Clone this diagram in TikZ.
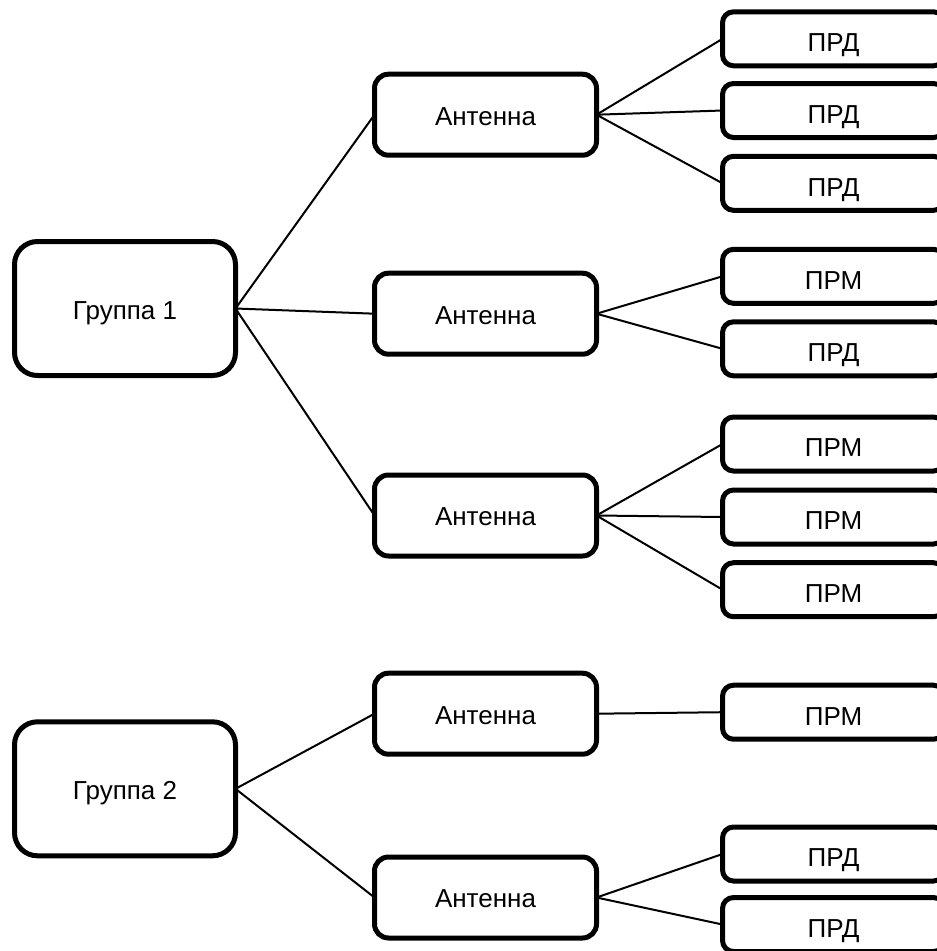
\documentclass[tikz,border=0pt]{standalone}
\usepackage{fontspec}
\setmainfont{Liberation Sans}
\begin{document}
\begin{tikzpicture}[x=1pt,y=-1pt,
  box/.style={draw=black, line width=5pt, fill=white, rounded corners=#1,
    inner sep=0pt, outer sep=0pt, text=black, text depth=0pt,
    font=\fontsize{26}{31}\selectfont},
  grp/.style={box=23pt, minimum width=221pt, minimum height=134pt, text height=21pt},
  ant/.style={box=14pt, minimum width=222pt, minimum height=81pt, text height=20.6pt},
  dev/.style={box=11pt, minimum width=222pt, minimum height=54pt, text height=25.8pt},
  link/.style={draw=black, line width=2pt}]
\clip (0,0) rectangle (937,951);
\fill[white] (0,0) rectangle (937,951);

\node[grp] (g1) at (125,308.5) {Группа 1};
\node[grp] (g2) at (125,788.8) {Группа 2};

\node[ant] (a1) at (485.5,114.7) {Антенна};
\node[ant] (a2) at (485.5,313.7) {Антенна};
\node[ant] (a3) at (485.5,515.5) {Антенна};
\node[ant] (a4) at (485.5,713.7) {Антенна};
\node[ant] (a5) at (485.5,897.5) {Антенна};

\node[dev] (d1) at (833.5,38.8) {ПРД};
\node[dev] (d2) at (833.5,110.5) {ПРД};
\node[dev] (d3) at (833.5,183.3) {ПРД};
\node[dev] (d4) at (833.5,276.3) {ПРМ};
\node[dev] (d5) at (833.5,348.8) {ПРД};
\node[dev] (d6) at (833.5,444) {ПРМ};
\node[dev] (d7) at (833.5,517) {ПРМ};
\node[dev] (d8) at (833.5,589.7) {ПРМ};
\node[dev] (d9) at (833.5,712.2) {ПРМ};
\node[dev] (d10) at (833.5,854) {ПРД};
\node[dev] (d11) at (833.5,924.5) {ПРД};

\foreach \a in {a1,a2,a3} \draw[link] (g1.east) -- (\a.west);
\foreach \a in {a4,a5} \draw[link] (g2.east) -- (\a.west);
\foreach \d in {d1,d2,d3} \draw[link] (a1.east) -- (\d.west);
\foreach \d in {d4,d5} \draw[link] (a2.east) -- (\d.west);
\foreach \d in {d6,d7,d8} \draw[link] (a3.east) -- (\d.west);
\draw[link] (a4.east) -- (d9.west);
\foreach \d in {d10,d11} \draw[link] (a5.east) -- (\d.west);
\end{tikzpicture}
\end{document}
